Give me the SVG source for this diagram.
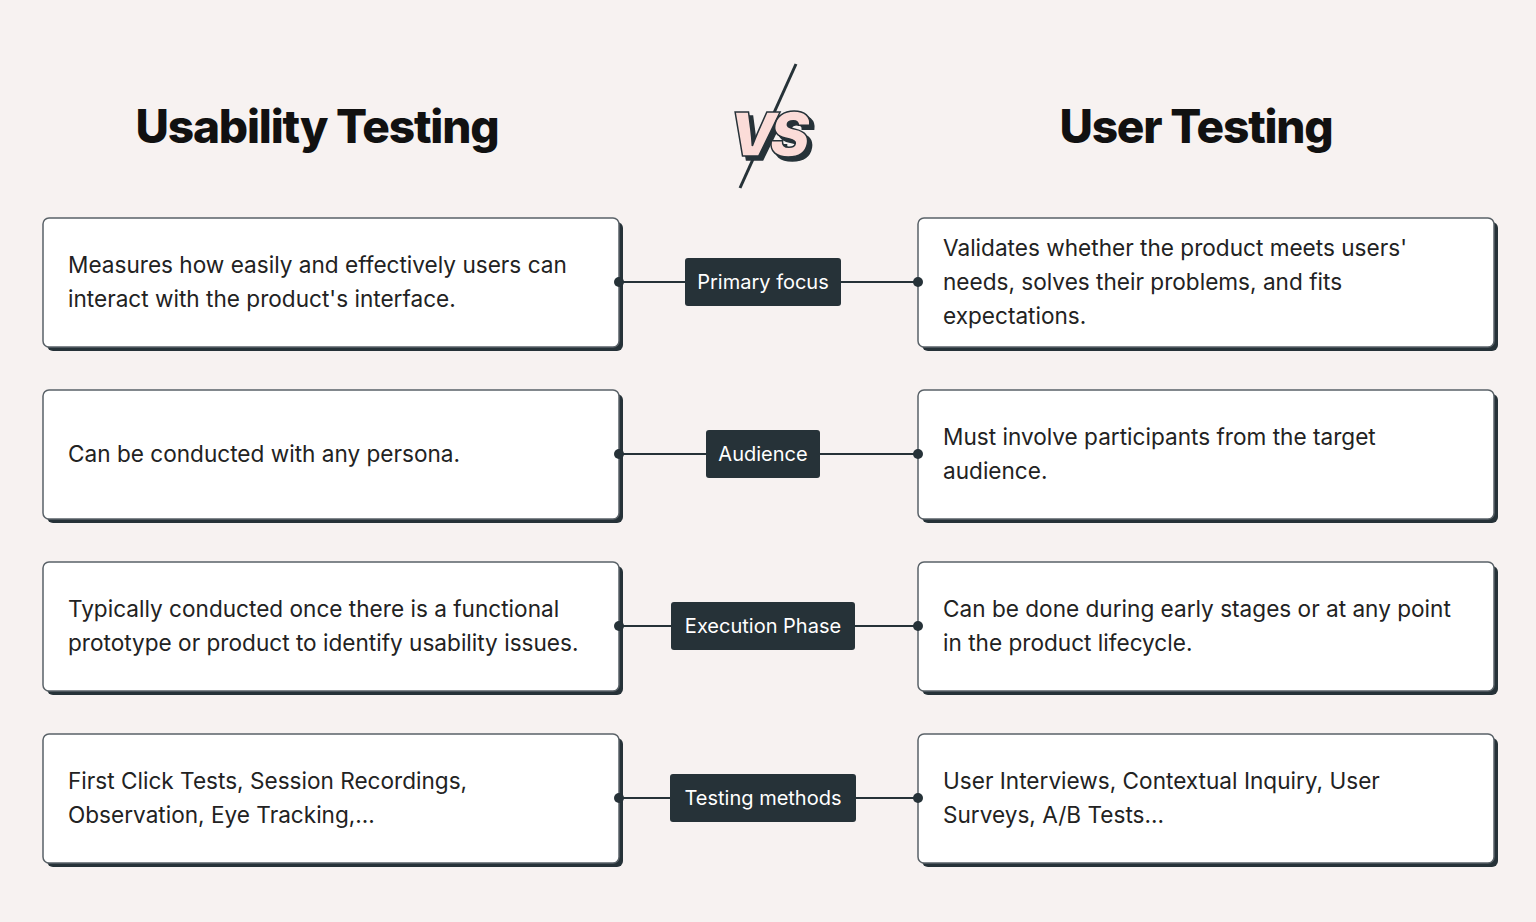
<svg xmlns="http://www.w3.org/2000/svg" width="1536" height="922" viewBox="0 0 1536 922">
<defs>
<filter id="shadow" x="-20%" y="-20%" width="150%" height="150%"><feOffset in="SourceAlpha" dx="4" dy="4" result="o"/><feFlood flood-color="#263238"/><feComposite in2="o" operator="in" result="s"/><feMerge><feMergeNode in="s"/><feMergeNode in="SourceGraphic"/></feMerge></filter>
</defs>
<style>
.card{fill:#fff;stroke:#5a6268;stroke-width:1.5}
.sh{fill:#263238}
.t{font-family:Inter,"Liberation Sans",sans-serif;font-size:22.6px;fill:#222}
.lab{fill:#263238}
.lt{font-family:Inter,"Liberation Sans",sans-serif;font-size:20px;fill:#fff;text-anchor:middle}
.h{font-family:Inter,"Liberation Sans",sans-serif;font-size:46px;font-weight:800;fill:#111;letter-spacing:-1.2px;text-anchor:middle}
.ln{stroke:#263238;stroke-width:2}
.dot{fill:#263238}
</style>
<rect width="1536" height="922" fill="#f7f2f1"/>
<text class="h" x="317" y="143">Usability Testing</text>
<text class="h" x="1196" y="143">User Testing</text>
<g id="vs">
<line x1="796" y1="64" x2="740" y2="188" stroke="#263238" stroke-width="3"/>
<text x="766" y="156" filter="url(#shadow)" font-family="Inter,'Liberation Sans',sans-serif" font-size="60" font-weight="900" font-style="italic" text-anchor="middle" fill="#fbdcd8" stroke="#263238" stroke-width="1.5" letter-spacing="-7">VS</text>
</g>
<g id="l1"><rect class="sh" x="47" y="222" width="576" height="129" rx="6"/><rect class="card" x="43" y="218" width="576" height="129" rx="6"/>
<text class="t" x="68" y="273">Measures how easily and effectively users can</text><text class="t" x="68" y="307">interact with the product's interface.</text></g>
<g id="r1"><rect class="sh" x="922" y="222" width="576" height="129" rx="6"/><rect class="card" x="918" y="218" width="576" height="129" rx="6"/>
<text class="t" x="943" y="256">Validates whether the product meets users'</text><text class="t" x="943" y="290">needs, solves their problems, and fits</text><text class="t" x="943" y="324">expectations.</text></g>
<g id="l2"><rect class="sh" x="47" y="394" width="576" height="129" rx="6"/><rect class="card" x="43" y="390" width="576" height="129" rx="6"/>
<text class="t" x="68" y="462">Can be conducted with any persona.</text></g>
<g id="r2"><rect class="sh" x="922" y="394" width="576" height="129" rx="6"/><rect class="card" x="918" y="390" width="576" height="129" rx="6"/>
<text class="t" x="943" y="445">Must involve participants from the target</text><text class="t" x="943" y="479">audience.</text></g>
<g id="l3"><rect class="sh" x="47" y="566" width="576" height="129" rx="6"/><rect class="card" x="43" y="562" width="576" height="129" rx="6"/>
<text class="t" x="68" y="617">Typically conducted once there is a functional</text><text class="t" x="68" y="651">prototype or product to identify usability issues.</text></g>
<g id="r3"><rect class="sh" x="922" y="566" width="576" height="129" rx="6"/><rect class="card" x="918" y="562" width="576" height="129" rx="6"/>
<text class="t" x="943" y="617">Can be done during early stages or at any point</text><text class="t" x="943" y="651">in the product lifecycle.</text></g>
<g id="l4"><rect class="sh" x="47" y="738" width="576" height="129" rx="6"/><rect class="card" x="43" y="734" width="576" height="129" rx="6"/>
<text class="t" x="68" y="789">First Click Tests, Session Recordings,</text><text class="t" x="68" y="823">Observation, Eye Tracking,...</text></g>
<g id="r4"><rect class="sh" x="922" y="738" width="576" height="129" rx="6"/><rect class="card" x="918" y="734" width="576" height="129" rx="6"/>
<text class="t" x="943" y="789">User Interviews, Contextual Inquiry, User</text><text class="t" x="943" y="823">Surveys, A/B Tests...</text></g>
<g id="connectors">
<line class="ln" x1="619" y1="282" x2="918" y2="282"/><circle class="dot" cx="619" cy="282" r="5"/><circle class="dot" cx="918" cy="282" r="5"/>
<line class="ln" x1="619" y1="454" x2="918" y2="454"/><circle class="dot" cx="619" cy="454" r="5"/><circle class="dot" cx="918" cy="454" r="5"/>
<line class="ln" x1="619" y1="626" x2="918" y2="626"/><circle class="dot" cx="619" cy="626" r="5"/><circle class="dot" cx="918" cy="626" r="5"/>
<line class="ln" x1="619" y1="798" x2="918" y2="798"/><circle class="dot" cx="619" cy="798" r="5"/><circle class="dot" cx="918" cy="798" r="5"/>
</g>
<g id="lab1"><rect class="lab" x="685" y="258" width="156" height="48" rx="3"/><text class="lt" x="763" y="289">Primary focus</text></g>
<g id="lab2"><rect class="lab" x="706" y="430" width="114" height="48" rx="3"/><text class="lt" x="763" y="461">Audience</text></g>
<g id="lab3"><rect class="lab" x="671" y="602" width="184" height="48" rx="3"/><text class="lt" x="763" y="633">Execution Phase</text></g>
<g id="lab4"><rect class="lab" x="670" y="774" width="186" height="48" rx="3"/><text class="lt" x="763" y="805">Testing methods</text></g>
</svg>
